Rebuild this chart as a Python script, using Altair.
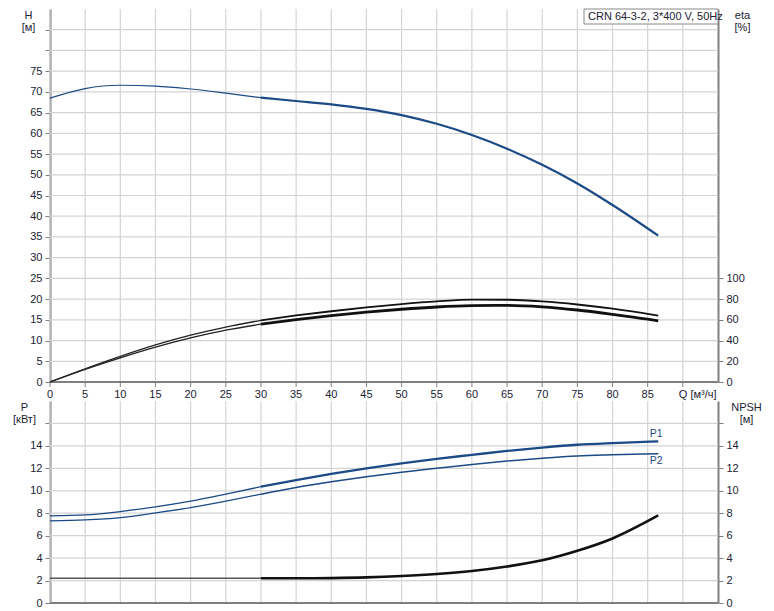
import altair as alt
import pandas as pd

# ---------------- data ----------------
chart_label = "CRN 64-3-2, 3*400 V, 50Hz"
q_axis_label = "Q [м³/ч]"

q_head = [0, 5, 10, 15, 20, 25, 30, 35, 40, 45, 50, 55, 60, 65, 70, 75, 80, 86.5]
head = [68.5, 70.8, 71.6, 71.4, 70.7, 69.7, 68.6, 67.8, 67.0, 65.9, 64.4, 62.3,
        59.6, 56.3, 52.4, 47.9, 42.7, 35.3]

q_eta = [0, 5, 10, 15, 20, 25, 30, 35, 40, 45, 50, 55, 60, 65, 70, 75, 80, 85, 86.5]
eta_upper = [0, 12.8, 24.8, 35.8, 45.2, 53.0, 59.5, 64.2, 68.3, 72.0, 75.2, 77.8,
             79.5, 79.4, 77.8, 74.8, 70.8, 65.8, 64.0]
eta_lower = [0, 12.2, 23.3, 33.6, 42.5, 50.0, 55.8, 60.2, 64.0, 67.4, 70.2, 72.4,
             73.7, 74.0, 72.6, 69.5, 65.3, 60.6, 59.0]

q_power = [0, 5, 10, 15, 20, 25, 30, 35, 40, 45, 50, 55, 60, 65, 70, 75, 80, 86.5]
p1 = [7.76, 7.85, 8.15, 8.57, 9.08, 9.7, 10.36, 10.95, 11.5, 12.0, 12.45, 12.85,
      13.2, 13.55, 13.85, 14.1, 14.25, 14.4]
p2 = [7.31, 7.4, 7.61, 8.03, 8.5, 9.08, 9.7, 10.3, 10.8, 11.25, 11.65, 12.0,
      12.35, 12.65, 12.9, 13.1, 13.2, 13.3]

q_npsh = [0, 5, 10, 15, 20, 25, 30, 35, 40, 45, 50, 55, 60, 65, 70, 75, 80, 86.5]
npsh = [2.2, 2.2, 2.2, 2.2, 2.2, 2.2, 2.2, 2.2, 2.22, 2.28, 2.4, 2.58, 2.85, 3.25,
        3.8, 4.65, 5.75, 7.8]

x_ticks = list(range(0, 95, 5))          # 0 .. 90 (90 carries the Q label)
h_ticks = list(range(0, 90, 5))          # 0 .. 85
eta_ticks = [0, 20, 40, 60, 80, 100]
p_ticks = [0, 2, 4, 6, 8, 10, 12, 14, 16]

# ---------------- styling ----------------
FONT = "Liberation Sans"
BLUE = "#1b4a86"
BLACK = "#111111"
GRID = "#d4d4d4"
AXIS = "#808080"
TXT = "#222233"
W = 668
H_TOP = 373
H_BOT = 202
GAP = 19


def segments(name, qs, vs, color_thin, color_thick, w_thin, w_thick):
    rows = []
    for q, v in zip(qs, vs):
        if q <= 30:
            rows.append(dict(q=q, v=v, key=name + "_a", w=w_thin, c=color_thin))
        if q >= 30:
            rows.append(dict(q=q, v=v, key=name + "_b", w=w_thick, c=color_thick))
    return rows


df_head = pd.DataFrame(segments("H", q_head, head, BLUE, BLUE, 1.2, 2.2))
df_eta = pd.DataFrame(segments("eu", q_eta, eta_upper, "#222222", BLACK, 1.3, 1.8)
                      + segments("el", q_eta, eta_lower, "#222222", BLACK, 1.3, 2.8))
df_p = pd.DataFrame(segments("P1", q_power, p1, BLUE, BLUE, 1.3, 2.3)
                    + segments("P2", q_power, p2, BLUE, BLUE, 1.2, 1.5))
df_npsh = pd.DataFrame(segments("N", q_npsh, npsh, "#555555", BLACK, 1.4, 2.6))
df_xlab = pd.DataFrame({
    "q": x_ticks,
    "t": [str(v) for v in x_ticks[:-1]] + [""],
})

x_scale = alt.Scale(domain=[0, 95], nice=False, zero=False)
h_scale = alt.Scale(domain=[0, 90], nice=False)
eta_scale = alt.Scale(domain=[0, 360], nice=False)
p_scale = alt.Scale(domain=[0, 18], nice=False)
n_scale = alt.Scale(domain=[0, 18], nice=False)

axis_common = dict(
    domainColor=AXIS, domainWidth=2, ticks=True, tickColor=AXIS, tickSize=5, tickWidth=1,
    labelColor=TXT, labelFont=FONT, labelFontSize=11, grid=False,
    titleColor=TXT, titleFont=FONT, titleFontSize=11, titleFontWeight="normal",
    titleAngle=0, titleAlign="center", titleBaseline="top", titleLineHeight=12,
)


def line_enc(df, yscale, yaxis):
    return alt.Chart(df).mark_line(interpolate="monotone").encode(
        x=alt.X("q:Q", scale=x_scale, axis=None),
        y=alt.Y("v:Q", scale=yscale, axis=yaxis),
        detail="key:N",
        color=alt.Color("c:N", scale=None),
        strokeWidth=alt.StrokeWidth("w:Q", scale=None),
    )


def vgrid():
    return alt.Chart(pd.DataFrame({"q": x_ticks})).mark_rule(
        color=GRID, strokeWidth=1.2
    ).encode(x=alt.X("q:Q", scale=x_scale, axis=None))


def hgrid(ticks, scale):
    return alt.Chart(pd.DataFrame({"v": ticks})).mark_rule(
        color=GRID, strokeWidth=1.2
    ).encode(y=alt.Y("v:Q", scale=scale, axis=None))


def xdomain(scale):
    return alt.Chart(pd.DataFrame({"v": [0]})).mark_rule(
        color=AXIS, strokeWidth=2
    ).encode(y=alt.Y("v:Q", scale=scale, axis=None))


def xticks(height):
    return alt.Chart(pd.DataFrame({"q": x_ticks})).mark_rule(
        color=AXIS, strokeWidth=1
    ).encode(x=alt.X("q:Q", scale=x_scale, axis=None),
             y=alt.value(height), y2=alt.value(height + 5))


x_labels = alt.Chart(df_xlab).mark_text(
    align="center", baseline="top", font=FONT, fontSize=11, color=TXT, dy=7
).encode(x=alt.X("q:Q", scale=x_scale, axis=None), y=alt.value(H_TOP), text="t:N")

q_label = alt.Chart(pd.DataFrame({"q": [x_ticks[-1]], "t": [q_axis_label]})).mark_text(
    align="left", baseline="top", font=FONT, fontSize=11, color=TXT, dx=-4, dy=7
).encode(x=alt.X("q:Q", scale=x_scale, axis=None), y=alt.value(H_TOP), text="t:N")

head_layer = line_enc(
    df_head, h_scale,
    alt.Axis(values=h_ticks, orient="left", title=["H", "[м]"],
             titleX=-22, titleY=0, labelPadding=3,
             labelExpr="datum.value > 75 ? '' : datum.label", **axis_common),
)
eta_layer = line_enc(
    df_eta, eta_scale,
    alt.Axis(values=eta_ticks, orient="right", title=["eta", "[%]"],
             titleX=24, titleY=0, labelPadding=3, **axis_common),
)

box = alt.Chart(pd.DataFrame({"t": [chart_label]})).mark_rect(
    fill="white", stroke="#888888", strokeWidth=1
).encode(x=alt.value(W - 134), x2=alt.value(W), y=alt.value(0), y2=alt.value(15))
box_text = alt.Chart(pd.DataFrame({"t": [chart_label]})).mark_text(
    align="left", baseline="middle", font=FONT, fontSize=11, color=TXT
).encode(x=alt.value(W - 130), y=alt.value(8), text="t:N")

top = alt.layer(
    vgrid(), hgrid(h_ticks, h_scale), xdomain(h_scale), xticks(H_TOP), x_labels, q_label,
    head_layer, eta_layer, box, box_text
).resolve_scale(y="independent").properties(width=W, height=H_TOP)

p_layer = line_enc(
    df_p, p_scale,
    alt.Axis(values=p_ticks, orient="left", title=["P", "[кВт]"],
             titleX=-26, titleY=0, labelPadding=3,
             labelExpr="datum.value > 14 ? '' : datum.label", **axis_common),
)


def end_label(name, qs, vs, dy):
    return alt.Chart(pd.DataFrame({"q": [qs[-1]], "v": [vs[-1]], "t": [name]})).mark_text(
        font=FONT, fontSize=10.5, color=BLUE, align="center", baseline="middle",
        dx=-2, dy=dy
    ).encode(
        x=alt.X("q:Q", scale=x_scale, axis=None),
        y=alt.Y("v:Q", scale=p_scale, axis=None),
        text="t:N",
    )


npsh_layer = line_enc(
    df_npsh, n_scale,
    alt.Axis(values=p_ticks, orient="right", title=["NPSH", "[м]"],
             titleX=28, titleY=0, labelPadding=3,
             labelExpr="datum.value > 14 ? '' : datum.label", **axis_common),
)

bottom = alt.layer(
    vgrid(), hgrid(p_ticks, p_scale), xdomain(p_scale), p_layer,
    end_label("P1", q_power, p1, -7), end_label("P2", q_power, p2, 7), npsh_layer
).resolve_scale(y="independent").properties(width=W, height=H_BOT)

chart = alt.vconcat(top, bottom, spacing=GAP, bounds="flush").properties(
    padding={"left": 4, "top": 0, "right": 4, "bottom": 0},
    background="white",
).configure_view(strokeWidth=0)

chart.save("out.html", embed_options={"renderer": "svg", "actions": False})
